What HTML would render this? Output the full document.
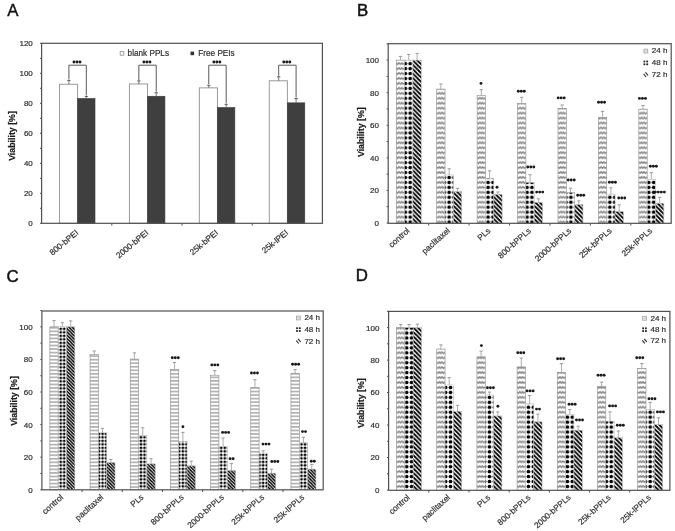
<!DOCTYPE html><html><head><meta charset="utf-8"><style>html,body{margin:0;padding:0;background:#fff;overflow:hidden;}svg{display:block;will-change:transform;}</style></head><body><svg width="675" height="531" viewBox="0 0 675 531" style="font-family:'Liberation Sans', sans-serif"><defs><pattern id="p1" patternUnits="userSpaceOnUse" width="8.1" height="4.95" x="396.27" y="219.53"><rect width="8.1" height="4.95" fill="#fff"/><path d="M0,2.0 L1.35,3.1 L2.7,1.9 L4.05,3.1 L5.4,1.9 L6.75,3.1 L8.1,2.0" fill="none" stroke="#8c8c8c" stroke-width="1.6"/></pattern><pattern id="p2" patternUnits="userSpaceOnUse" width="4.87" height="4.95" x="402.87" y="219.53"><rect width="4.87" height="4.95" fill="#fff"/><circle cx="2.44" cy="2.475" r="1.85" fill="#000"/></pattern><pattern id="p3" patternUnits="userSpaceOnUse" width="4.4" height="4.4" x="412.93" y="223.3"><rect width="4.4" height="4.4" fill="#fff"/><path d="M-1,3.4000000000000004 l2,2 M0,0 l4.4,4.4 M3.4000000000000004,-1 l2,2" stroke="#000" stroke-width="1.75"/></pattern><pattern id="p4" patternUnits="userSpaceOnUse" width="8.1" height="4.95" x="436.7" y="219.53"><rect width="8.1" height="4.95" fill="#fff"/><path d="M0,2.0 L1.35,3.1 L2.7,1.9 L4.05,3.1 L5.4,1.9 L6.75,3.1 L8.1,2.0" fill="none" stroke="#8c8c8c" stroke-width="1.6"/></pattern><pattern id="p5" patternUnits="userSpaceOnUse" width="4.87" height="4.95" x="402.87" y="219.53"><rect width="4.87" height="4.95" fill="#fff"/><circle cx="2.44" cy="2.475" r="1.85" fill="#000"/></pattern><pattern id="p6" patternUnits="userSpaceOnUse" width="4.4" height="4.4" x="453.36" y="223.3"><rect width="4.4" height="4.4" fill="#fff"/><path d="M-1,3.4000000000000004 l2,2 M0,0 l4.4,4.4 M3.4000000000000004,-1 l2,2" stroke="#000" stroke-width="1.75"/></pattern><pattern id="p7" patternUnits="userSpaceOnUse" width="8.1" height="4.95" x="477.13" y="219.53"><rect width="8.1" height="4.95" fill="#fff"/><path d="M0,2.0 L1.35,3.1 L2.7,1.9 L4.05,3.1 L5.4,1.9 L6.75,3.1 L8.1,2.0" fill="none" stroke="#8c8c8c" stroke-width="1.6"/></pattern><pattern id="p8" patternUnits="userSpaceOnUse" width="4.87" height="4.95" x="402.87" y="219.53"><rect width="4.87" height="4.95" fill="#fff"/><circle cx="2.44" cy="2.475" r="1.85" fill="#000"/></pattern><pattern id="p9" patternUnits="userSpaceOnUse" width="4.4" height="4.4" x="493.79" y="223.3"><rect width="4.4" height="4.4" fill="#fff"/><path d="M-1,3.4000000000000004 l2,2 M0,0 l4.4,4.4 M3.4000000000000004,-1 l2,2" stroke="#000" stroke-width="1.75"/></pattern><pattern id="p10" patternUnits="userSpaceOnUse" width="8.1" height="4.95" x="517.56" y="219.53"><rect width="8.1" height="4.95" fill="#fff"/><path d="M0,2.0 L1.35,3.1 L2.7,1.9 L4.05,3.1 L5.4,1.9 L6.75,3.1 L8.1,2.0" fill="none" stroke="#8c8c8c" stroke-width="1.6"/></pattern><pattern id="p11" patternUnits="userSpaceOnUse" width="4.87" height="4.95" x="402.87" y="219.53"><rect width="4.87" height="4.95" fill="#fff"/><circle cx="2.44" cy="2.475" r="1.85" fill="#000"/></pattern><pattern id="p12" patternUnits="userSpaceOnUse" width="4.4" height="4.4" x="534.22" y="223.3"><rect width="4.4" height="4.4" fill="#fff"/><path d="M-1,3.4000000000000004 l2,2 M0,0 l4.4,4.4 M3.4000000000000004,-1 l2,2" stroke="#000" stroke-width="1.75"/></pattern><pattern id="p13" patternUnits="userSpaceOnUse" width="8.1" height="4.95" x="557.98" y="219.53"><rect width="8.1" height="4.95" fill="#fff"/><path d="M0,2.0 L1.35,3.1 L2.7,1.9 L4.05,3.1 L5.4,1.9 L6.75,3.1 L8.1,2.0" fill="none" stroke="#8c8c8c" stroke-width="1.6"/></pattern><pattern id="p14" patternUnits="userSpaceOnUse" width="4.87" height="4.95" x="402.87" y="219.53"><rect width="4.87" height="4.95" fill="#fff"/><circle cx="2.44" cy="2.475" r="1.85" fill="#000"/></pattern><pattern id="p15" patternUnits="userSpaceOnUse" width="4.4" height="4.4" x="574.64" y="223.3"><rect width="4.4" height="4.4" fill="#fff"/><path d="M-1,3.4000000000000004 l2,2 M0,0 l4.4,4.4 M3.4000000000000004,-1 l2,2" stroke="#000" stroke-width="1.75"/></pattern><pattern id="p16" patternUnits="userSpaceOnUse" width="8.1" height="4.95" x="598.41" y="219.53"><rect width="8.1" height="4.95" fill="#fff"/><path d="M0,2.0 L1.35,3.1 L2.7,1.9 L4.05,3.1 L5.4,1.9 L6.75,3.1 L8.1,2.0" fill="none" stroke="#8c8c8c" stroke-width="1.6"/></pattern><pattern id="p17" patternUnits="userSpaceOnUse" width="4.87" height="4.95" x="402.87" y="219.53"><rect width="4.87" height="4.95" fill="#fff"/><circle cx="2.44" cy="2.475" r="1.85" fill="#000"/></pattern><pattern id="p18" patternUnits="userSpaceOnUse" width="4.4" height="4.4" x="615.07" y="223.3"><rect width="4.4" height="4.4" fill="#fff"/><path d="M-1,3.4000000000000004 l2,2 M0,0 l4.4,4.4 M3.4000000000000004,-1 l2,2" stroke="#000" stroke-width="1.75"/></pattern><pattern id="p19" patternUnits="userSpaceOnUse" width="8.1" height="4.95" x="638.84" y="219.53"><rect width="8.1" height="4.95" fill="#fff"/><path d="M0,2.0 L1.35,3.1 L2.7,1.9 L4.05,3.1 L5.4,1.9 L6.75,3.1 L8.1,2.0" fill="none" stroke="#8c8c8c" stroke-width="1.6"/></pattern><pattern id="p20" patternUnits="userSpaceOnUse" width="4.87" height="4.95" x="402.87" y="219.53"><rect width="4.87" height="4.95" fill="#fff"/><circle cx="2.44" cy="2.475" r="1.85" fill="#000"/></pattern><pattern id="p21" patternUnits="userSpaceOnUse" width="4.4" height="4.4" x="655.5" y="223.3"><rect width="4.4" height="4.4" fill="#fff"/><path d="M-1,3.4000000000000004 l2,2 M0,0 l4.4,4.4 M3.4000000000000004,-1 l2,2" stroke="#000" stroke-width="1.75"/></pattern><pattern id="p22" patternUnits="userSpaceOnUse" width="8.1" height="3.54" x="49.85" y="489.8"><rect width="8.1" height="3.54" fill="#fff"/><rect x="0" y="0.1" width="8.1" height="1.45" fill="#a4a4a4"/></pattern><pattern id="p23" patternUnits="userSpaceOnUse" width="3.49" height="3.5" x="58.96" y="488.05"><rect width="3.49" height="3.5" fill="#fff"/><circle cx="1.75" cy="1.75" r="1.38" fill="#000"/></pattern><pattern id="p24" patternUnits="userSpaceOnUse" width="3.3" height="3.3" x="66.51" y="489.8"><rect width="3.3" height="3.3" fill="#fff"/><path d="M-1,2.3 l2,2 M0,0 l3.3,3.3 M2.3,-1 l2,2" stroke="#000" stroke-width="1.45"/></pattern><pattern id="p25" patternUnits="userSpaceOnUse" width="8.1" height="3.54" x="90.03" y="489.8"><rect width="8.1" height="3.54" fill="#fff"/><rect x="0" y="0.1" width="8.1" height="1.45" fill="#a4a4a4"/></pattern><pattern id="p26" patternUnits="userSpaceOnUse" width="3.49" height="3.5" x="58.96" y="488.05"><rect width="3.49" height="3.5" fill="#fff"/><circle cx="1.75" cy="1.75" r="1.38" fill="#000"/></pattern><pattern id="p27" patternUnits="userSpaceOnUse" width="3.3" height="3.3" x="106.69" y="489.8"><rect width="3.3" height="3.3" fill="#fff"/><path d="M-1,2.3 l2,2 M0,0 l3.3,3.3 M2.3,-1 l2,2" stroke="#000" stroke-width="1.45"/></pattern><pattern id="p28" patternUnits="userSpaceOnUse" width="8.1" height="3.54" x="130.22" y="489.8"><rect width="8.1" height="3.54" fill="#fff"/><rect x="0" y="0.1" width="8.1" height="1.45" fill="#a4a4a4"/></pattern><pattern id="p29" patternUnits="userSpaceOnUse" width="3.49" height="3.5" x="58.96" y="488.05"><rect width="3.49" height="3.5" fill="#fff"/><circle cx="1.75" cy="1.75" r="1.38" fill="#000"/></pattern><pattern id="p30" patternUnits="userSpaceOnUse" width="3.3" height="3.3" x="146.88" y="489.8"><rect width="3.3" height="3.3" fill="#fff"/><path d="M-1,2.3 l2,2 M0,0 l3.3,3.3 M2.3,-1 l2,2" stroke="#000" stroke-width="1.45"/></pattern><pattern id="p31" patternUnits="userSpaceOnUse" width="8.1" height="3.54" x="170.41" y="489.8"><rect width="8.1" height="3.54" fill="#fff"/><rect x="0" y="0.1" width="8.1" height="1.45" fill="#a4a4a4"/></pattern><pattern id="p32" patternUnits="userSpaceOnUse" width="3.49" height="3.5" x="58.96" y="488.05"><rect width="3.49" height="3.5" fill="#fff"/><circle cx="1.75" cy="1.75" r="1.38" fill="#000"/></pattern><pattern id="p33" patternUnits="userSpaceOnUse" width="3.3" height="3.3" x="187.06" y="489.8"><rect width="3.3" height="3.3" fill="#fff"/><path d="M-1,2.3 l2,2 M0,0 l3.3,3.3 M2.3,-1 l2,2" stroke="#000" stroke-width="1.45"/></pattern><pattern id="p34" patternUnits="userSpaceOnUse" width="8.1" height="3.54" x="210.59" y="489.8"><rect width="8.1" height="3.54" fill="#fff"/><rect x="0" y="0.1" width="8.1" height="1.45" fill="#a4a4a4"/></pattern><pattern id="p35" patternUnits="userSpaceOnUse" width="3.49" height="3.5" x="58.96" y="488.05"><rect width="3.49" height="3.5" fill="#fff"/><circle cx="1.75" cy="1.75" r="1.38" fill="#000"/></pattern><pattern id="p36" patternUnits="userSpaceOnUse" width="3.3" height="3.3" x="227.25" y="489.8"><rect width="3.3" height="3.3" fill="#fff"/><path d="M-1,2.3 l2,2 M0,0 l3.3,3.3 M2.3,-1 l2,2" stroke="#000" stroke-width="1.45"/></pattern><pattern id="p37" patternUnits="userSpaceOnUse" width="8.1" height="3.54" x="250.78" y="489.8"><rect width="8.1" height="3.54" fill="#fff"/><rect x="0" y="0.1" width="8.1" height="1.45" fill="#a4a4a4"/></pattern><pattern id="p38" patternUnits="userSpaceOnUse" width="3.49" height="3.5" x="58.96" y="488.05"><rect width="3.49" height="3.5" fill="#fff"/><circle cx="1.75" cy="1.75" r="1.38" fill="#000"/></pattern><pattern id="p39" patternUnits="userSpaceOnUse" width="3.3" height="3.3" x="267.44" y="489.8"><rect width="3.3" height="3.3" fill="#fff"/><path d="M-1,2.3 l2,2 M0,0 l3.3,3.3 M2.3,-1 l2,2" stroke="#000" stroke-width="1.45"/></pattern><pattern id="p40" patternUnits="userSpaceOnUse" width="8.1" height="3.54" x="290.96" y="489.8"><rect width="8.1" height="3.54" fill="#fff"/><rect x="0" y="0.1" width="8.1" height="1.45" fill="#a4a4a4"/></pattern><pattern id="p41" patternUnits="userSpaceOnUse" width="3.49" height="3.5" x="58.96" y="488.05"><rect width="3.49" height="3.5" fill="#fff"/><circle cx="1.75" cy="1.75" r="1.38" fill="#000"/></pattern><pattern id="p42" patternUnits="userSpaceOnUse" width="3.3" height="3.3" x="307.62" y="489.8"><rect width="3.3" height="3.3" fill="#fff"/><path d="M-1,2.3 l2,2 M0,0 l3.3,3.3 M2.3,-1 l2,2" stroke="#000" stroke-width="1.45"/></pattern><pattern id="p43" patternUnits="userSpaceOnUse" width="8.1" height="4.95" x="396.55" y="483.96"><rect width="8.1" height="4.95" fill="#fff"/><path d="M0,2.0 L1.35,3.1 L2.7,1.9 L4.05,3.1 L5.4,1.9 L6.75,3.1 L8.1,2.0" fill="none" stroke="#8c8c8c" stroke-width="1.6"/></pattern><pattern id="p44" patternUnits="userSpaceOnUse" width="4.87" height="4.95" x="404.26" y="483.96"><rect width="4.87" height="4.95" fill="#fff"/><circle cx="2.44" cy="2.475" r="1.85" fill="#000"/></pattern><pattern id="p45" patternUnits="userSpaceOnUse" width="4.4" height="4.4" x="413.21" y="490.3"><rect width="4.4" height="4.4" fill="#fff"/><path d="M-1,3.4000000000000004 l2,2 M0,0 l4.4,4.4 M3.4000000000000004,-1 l2,2" stroke="#000" stroke-width="1.75"/></pattern><pattern id="p46" patternUnits="userSpaceOnUse" width="8.1" height="4.95" x="436.73" y="483.96"><rect width="8.1" height="4.95" fill="#fff"/><path d="M0,2.0 L1.35,3.1 L2.7,1.9 L4.05,3.1 L5.4,1.9 L6.75,3.1 L8.1,2.0" fill="none" stroke="#8c8c8c" stroke-width="1.6"/></pattern><pattern id="p47" patternUnits="userSpaceOnUse" width="4.87" height="4.95" x="404.26" y="483.96"><rect width="4.87" height="4.95" fill="#fff"/><circle cx="2.44" cy="2.475" r="1.85" fill="#000"/></pattern><pattern id="p48" patternUnits="userSpaceOnUse" width="4.4" height="4.4" x="453.39" y="490.3"><rect width="4.4" height="4.4" fill="#fff"/><path d="M-1,3.4000000000000004 l2,2 M0,0 l4.4,4.4 M3.4000000000000004,-1 l2,2" stroke="#000" stroke-width="1.75"/></pattern><pattern id="p49" patternUnits="userSpaceOnUse" width="8.1" height="4.95" x="476.92" y="483.96"><rect width="8.1" height="4.95" fill="#fff"/><path d="M0,2.0 L1.35,3.1 L2.7,1.9 L4.05,3.1 L5.4,1.9 L6.75,3.1 L8.1,2.0" fill="none" stroke="#8c8c8c" stroke-width="1.6"/></pattern><pattern id="p50" patternUnits="userSpaceOnUse" width="4.87" height="4.95" x="404.26" y="483.96"><rect width="4.87" height="4.95" fill="#fff"/><circle cx="2.44" cy="2.475" r="1.85" fill="#000"/></pattern><pattern id="p51" patternUnits="userSpaceOnUse" width="4.4" height="4.4" x="493.58" y="490.3"><rect width="4.4" height="4.4" fill="#fff"/><path d="M-1,3.4000000000000004 l2,2 M0,0 l4.4,4.4 M3.4000000000000004,-1 l2,2" stroke="#000" stroke-width="1.75"/></pattern><pattern id="p52" patternUnits="userSpaceOnUse" width="8.1" height="4.95" x="517.11" y="483.96"><rect width="8.1" height="4.95" fill="#fff"/><path d="M0,2.0 L1.35,3.1 L2.7,1.9 L4.05,3.1 L5.4,1.9 L6.75,3.1 L8.1,2.0" fill="none" stroke="#8c8c8c" stroke-width="1.6"/></pattern><pattern id="p53" patternUnits="userSpaceOnUse" width="4.87" height="4.95" x="404.26" y="483.96"><rect width="4.87" height="4.95" fill="#fff"/><circle cx="2.44" cy="2.475" r="1.85" fill="#000"/></pattern><pattern id="p54" patternUnits="userSpaceOnUse" width="4.4" height="4.4" x="533.76" y="490.3"><rect width="4.4" height="4.4" fill="#fff"/><path d="M-1,3.4000000000000004 l2,2 M0,0 l4.4,4.4 M3.4000000000000004,-1 l2,2" stroke="#000" stroke-width="1.75"/></pattern><pattern id="p55" patternUnits="userSpaceOnUse" width="8.1" height="4.95" x="557.29" y="483.96"><rect width="8.1" height="4.95" fill="#fff"/><path d="M0,2.0 L1.35,3.1 L2.7,1.9 L4.05,3.1 L5.4,1.9 L6.75,3.1 L8.1,2.0" fill="none" stroke="#8c8c8c" stroke-width="1.6"/></pattern><pattern id="p56" patternUnits="userSpaceOnUse" width="4.87" height="4.95" x="404.26" y="483.96"><rect width="4.87" height="4.95" fill="#fff"/><circle cx="2.44" cy="2.475" r="1.85" fill="#000"/></pattern><pattern id="p57" patternUnits="userSpaceOnUse" width="4.4" height="4.4" x="573.95" y="490.3"><rect width="4.4" height="4.4" fill="#fff"/><path d="M-1,3.4000000000000004 l2,2 M0,0 l4.4,4.4 M3.4000000000000004,-1 l2,2" stroke="#000" stroke-width="1.75"/></pattern><pattern id="p58" patternUnits="userSpaceOnUse" width="8.1" height="4.95" x="597.48" y="483.96"><rect width="8.1" height="4.95" fill="#fff"/><path d="M0,2.0 L1.35,3.1 L2.7,1.9 L4.05,3.1 L5.4,1.9 L6.75,3.1 L8.1,2.0" fill="none" stroke="#8c8c8c" stroke-width="1.6"/></pattern><pattern id="p59" patternUnits="userSpaceOnUse" width="4.87" height="4.95" x="404.26" y="483.96"><rect width="4.87" height="4.95" fill="#fff"/><circle cx="2.44" cy="2.475" r="1.85" fill="#000"/></pattern><pattern id="p60" patternUnits="userSpaceOnUse" width="4.4" height="4.4" x="614.14" y="490.3"><rect width="4.4" height="4.4" fill="#fff"/><path d="M-1,3.4000000000000004 l2,2 M0,0 l4.4,4.4 M3.4000000000000004,-1 l2,2" stroke="#000" stroke-width="1.75"/></pattern><pattern id="p61" patternUnits="userSpaceOnUse" width="8.1" height="4.95" x="637.66" y="483.96"><rect width="8.1" height="4.95" fill="#fff"/><path d="M0,2.0 L1.35,3.1 L2.7,1.9 L4.05,3.1 L5.4,1.9 L6.75,3.1 L8.1,2.0" fill="none" stroke="#8c8c8c" stroke-width="1.6"/></pattern><pattern id="p62" patternUnits="userSpaceOnUse" width="4.87" height="4.95" x="404.26" y="483.96"><rect width="4.87" height="4.95" fill="#fff"/><circle cx="2.44" cy="2.475" r="1.85" fill="#000"/></pattern><pattern id="p63" patternUnits="userSpaceOnUse" width="4.4" height="4.4" x="654.32" y="490.3"><rect width="4.4" height="4.4" fill="#fff"/><path d="M-1,3.4000000000000004 l2,2 M0,0 l4.4,4.4 M3.4000000000000004,-1 l2,2" stroke="#000" stroke-width="1.75"/></pattern></defs><rect width="675" height="531" fill="#fff"/><text x="7.2" y="15.7" font-size="16.8" fill="#111" stroke="#111" stroke-width="0.35">A</text>
<rect x="59.5" y="84.25" width="18.1" height="139.05" fill="#fff" stroke="#9a9a9a" stroke-width="1"/>
<rect x="77.6" y="98.5" width="17.4" height="124.8" fill="#3f3f3f" stroke="#3a3a3a" stroke-width="0.6"/>
<line x1="68.9" y1="80.4" x2="68.9" y2="84.25" stroke="#555" stroke-width="0.8"/>
<line x1="67.3" y1="80.4" x2="70.5" y2="80.4" stroke="#555" stroke-width="1"/>
<line x1="86.3" y1="96.4" x2="86.3" y2="98.5" stroke="#555" stroke-width="0.8"/>
<line x1="84.7" y1="96.4" x2="87.9" y2="96.4" stroke="#555" stroke-width="1"/>
<path d="M68.9,79.4 V65.2 H86.3 V95.4" fill="none" stroke="#5a5a5a" stroke-width="1"/>
<circle cx="74" cy="62" r="1.45" fill="#1a1a1a"/>
<circle cx="77" cy="62" r="1.45" fill="#1a1a1a"/>
<circle cx="80" cy="62" r="1.45" fill="#1a1a1a"/>
<text transform="translate(79,233.6) rotate(-40)" font-size="8.3" text-anchor="end" fill="#2e2e2e" stroke="#2e2e2e" stroke-width="0.2">800-bPEI</text>
<rect x="129.43" y="83.95" width="18.1" height="139.35" fill="#fff" stroke="#9a9a9a" stroke-width="1"/>
<rect x="147.53" y="96.25" width="17.4" height="127.05" fill="#3f3f3f" stroke="#3a3a3a" stroke-width="0.6"/>
<line x1="138.83" y1="80.9" x2="138.83" y2="83.95" stroke="#555" stroke-width="0.8"/>
<line x1="137.23" y1="80.9" x2="140.43" y2="80.9" stroke="#555" stroke-width="1"/>
<line x1="156.23" y1="92.8" x2="156.23" y2="96.25" stroke="#555" stroke-width="0.8"/>
<line x1="154.63" y1="92.8" x2="157.83" y2="92.8" stroke="#555" stroke-width="1"/>
<path d="M138.83,79.9 V65.2 H156.23 V91.8" fill="none" stroke="#5a5a5a" stroke-width="1"/>
<circle cx="143.93" cy="62" r="1.45" fill="#1a1a1a"/>
<circle cx="146.93" cy="62" r="1.45" fill="#1a1a1a"/>
<circle cx="149.93" cy="62" r="1.45" fill="#1a1a1a"/>
<text transform="translate(148.93,233.6) rotate(-40)" font-size="8.3" text-anchor="end" fill="#2e2e2e" stroke="#2e2e2e" stroke-width="0.2">2000-bPEI</text>
<rect x="199.36" y="87.85" width="18.1" height="135.45" fill="#fff" stroke="#9a9a9a" stroke-width="1"/>
<rect x="217.46" y="107.5" width="17.4" height="115.8" fill="#3f3f3f" stroke="#3a3a3a" stroke-width="0.6"/>
<line x1="208.76" y1="85.3" x2="208.76" y2="87.85" stroke="#555" stroke-width="0.8"/>
<line x1="207.16" y1="85.3" x2="210.36" y2="85.3" stroke="#555" stroke-width="1"/>
<line x1="226.16" y1="104.3" x2="226.16" y2="107.5" stroke="#555" stroke-width="0.8"/>
<line x1="224.56" y1="104.3" x2="227.76" y2="104.3" stroke="#555" stroke-width="1"/>
<path d="M208.76,84.3 V65.2 H226.16 V103.3" fill="none" stroke="#5a5a5a" stroke-width="1"/>
<circle cx="213.86" cy="62" r="1.45" fill="#1a1a1a"/>
<circle cx="216.86" cy="62" r="1.45" fill="#1a1a1a"/>
<circle cx="219.86" cy="62" r="1.45" fill="#1a1a1a"/>
<text transform="translate(218.86,233.6) rotate(-40)" font-size="8.3" text-anchor="end" fill="#2e2e2e" stroke="#2e2e2e" stroke-width="0.2">25k-bPEI</text>
<rect x="269.29" y="80.8" width="18.1" height="142.5" fill="#fff" stroke="#9a9a9a" stroke-width="1"/>
<rect x="287.39" y="102.85" width="17.4" height="120.45" fill="#3f3f3f" stroke="#3a3a3a" stroke-width="0.6"/>
<line x1="278.69" y1="76.8" x2="278.69" y2="80.8" stroke="#555" stroke-width="0.8"/>
<line x1="277.09" y1="76.8" x2="280.29" y2="76.8" stroke="#555" stroke-width="1"/>
<line x1="296.09" y1="98.6" x2="296.09" y2="102.85" stroke="#555" stroke-width="0.8"/>
<line x1="294.49" y1="98.6" x2="297.69" y2="98.6" stroke="#555" stroke-width="1"/>
<path d="M278.69,75.8 V65.2 H296.09 V97.6" fill="none" stroke="#5a5a5a" stroke-width="1"/>
<circle cx="283.79" cy="62" r="1.45" fill="#1a1a1a"/>
<circle cx="286.79" cy="62" r="1.45" fill="#1a1a1a"/>
<circle cx="289.79" cy="62" r="1.45" fill="#1a1a1a"/>
<text transform="translate(288.79,233.6) rotate(-40)" font-size="8.3" text-anchor="end" fill="#2e2e2e" stroke="#2e2e2e" stroke-width="0.2">25k-lPEI</text>
<rect x="41.6" y="43.3" width="280.8" height="180" fill="none" stroke="#505050" stroke-width="1.2"/>
<line x1="40" y1="223.3" x2="41.6" y2="223.3" stroke="#505050" stroke-width="1"/>
<text x="32.8" y="226.2" font-size="8.0" text-anchor="end" font-weight="normal" fill="#2e2e2e" stroke="#2e2e2e" stroke-width="0.2">0</text>
<line x1="40" y1="208.3" x2="41.6" y2="208.3" stroke="#505050" stroke-width="1"/>
<line x1="40" y1="193.3" x2="41.6" y2="193.3" stroke="#505050" stroke-width="1"/>
<text x="32.8" y="196.2" font-size="8.0" text-anchor="end" font-weight="normal" fill="#2e2e2e" stroke="#2e2e2e" stroke-width="0.2">20</text>
<line x1="40" y1="178.3" x2="41.6" y2="178.3" stroke="#505050" stroke-width="1"/>
<line x1="40" y1="163.3" x2="41.6" y2="163.3" stroke="#505050" stroke-width="1"/>
<text x="32.8" y="166.2" font-size="8.0" text-anchor="end" font-weight="normal" fill="#2e2e2e" stroke="#2e2e2e" stroke-width="0.2">40</text>
<line x1="40" y1="148.3" x2="41.6" y2="148.3" stroke="#505050" stroke-width="1"/>
<line x1="40" y1="133.3" x2="41.6" y2="133.3" stroke="#505050" stroke-width="1"/>
<text x="32.8" y="136.2" font-size="8.0" text-anchor="end" font-weight="normal" fill="#2e2e2e" stroke="#2e2e2e" stroke-width="0.2">60</text>
<line x1="40" y1="118.3" x2="41.6" y2="118.3" stroke="#505050" stroke-width="1"/>
<line x1="40" y1="103.3" x2="41.6" y2="103.3" stroke="#505050" stroke-width="1"/>
<text x="32.8" y="106.2" font-size="8.0" text-anchor="end" font-weight="normal" fill="#2e2e2e" stroke="#2e2e2e" stroke-width="0.2">80</text>
<line x1="40" y1="88.3" x2="41.6" y2="88.3" stroke="#505050" stroke-width="1"/>
<line x1="40" y1="73.3" x2="41.6" y2="73.3" stroke="#505050" stroke-width="1"/>
<text x="32.8" y="76.2" font-size="8.0" text-anchor="end" font-weight="normal" fill="#2e2e2e" stroke="#2e2e2e" stroke-width="0.2">100</text>
<line x1="40" y1="58.3" x2="41.6" y2="58.3" stroke="#505050" stroke-width="1"/>
<line x1="40" y1="43.3" x2="41.6" y2="43.3" stroke="#505050" stroke-width="1"/>
<text x="32.8" y="46.2" font-size="8.0" text-anchor="end" font-weight="normal" fill="#2e2e2e" stroke="#2e2e2e" stroke-width="0.2">120</text>
<text transform="translate(14.9,136.0) rotate(-90)" font-size="8.8" font-weight="bold" text-anchor="middle" fill="#1e1e1e" stroke="#1e1e1e" stroke-width="0.25">Viability [%]</text>
<line x1="111.8" y1="223.3" x2="111.8" y2="225.5" stroke="#505050" stroke-width="1"/>
<line x1="182" y1="223.3" x2="182" y2="225.5" stroke="#505050" stroke-width="1"/>
<line x1="252.2" y1="223.3" x2="252.2" y2="225.5" stroke="#505050" stroke-width="1"/>
<rect x="120.2" y="51.6" width="3.6" height="3.6" fill="#fff" stroke="#999" stroke-width="0.9"/>
<text x="127.6" y="56" font-size="8.2" text-anchor="start" font-weight="normal" fill="#2e2e2e" stroke="#2e2e2e" stroke-width="0.2">blank PPLs</text>
<rect x="190.5" y="51.6" width="3.6" height="3.6" fill="#333"/>
<text x="198.3" y="56" font-size="8.2" text-anchor="start" font-weight="normal" fill="#2e2e2e" stroke="#2e2e2e" stroke-width="0.2">Free PEIs</text>
<text x="357.1" y="15.7" font-size="16.8" fill="#111" stroke="#111" stroke-width="0.5">B</text>
<rect x="396.27" y="60.1" width="8.33" height="163.2" fill="url(#p1)" stroke="#8a8a8a" stroke-width="0.6"/>
<line x1="400.43" y1="56.4" x2="400.43" y2="60.1" stroke="#999" stroke-width="0.8"/>
<line x1="398.83" y1="56.4" x2="402.03" y2="56.4" stroke="#999" stroke-width="1"/>
<rect x="404.6" y="60.1" width="8.33" height="163.2" fill="url(#p2)" stroke="#bbb" stroke-width="0.6"/>
<line x1="408.76" y1="54.5" x2="408.76" y2="60.1" stroke="#999" stroke-width="0.8"/>
<line x1="407.16" y1="54.5" x2="410.36" y2="54.5" stroke="#999" stroke-width="1"/>
<rect x="412.93" y="60.1" width="8.33" height="163.2" fill="url(#p3)" stroke="#bbb" stroke-width="0.6"/>
<line x1="417.09" y1="53.4" x2="417.09" y2="60.1" stroke="#999" stroke-width="0.8"/>
<line x1="415.49" y1="53.4" x2="418.69" y2="53.4" stroke="#999" stroke-width="1"/>
<text transform="translate(410.21,231.4) rotate(-42)" font-size="8.3" text-anchor="end" fill="#2e2e2e" stroke="#2e2e2e" stroke-width="0.2">control</text>
<rect x="436.7" y="89.1" width="8.33" height="134.2" fill="url(#p4)" stroke="#8a8a8a" stroke-width="0.6"/>
<line x1="440.86" y1="84" x2="440.86" y2="89.1" stroke="#999" stroke-width="0.8"/>
<line x1="439.26" y1="84" x2="442.46" y2="84" stroke="#999" stroke-width="1"/>
<rect x="445.03" y="174.94" width="8.33" height="48.36" fill="url(#p5)" stroke="#bbb" stroke-width="0.6"/>
<line x1="449.19" y1="168.8" x2="449.19" y2="174.94" stroke="#999" stroke-width="0.8"/>
<line x1="447.59" y1="168.8" x2="450.79" y2="168.8" stroke="#999" stroke-width="1"/>
<rect x="453.36" y="191.56" width="8.33" height="31.74" fill="url(#p6)" stroke="#bbb" stroke-width="0.6"/>
<line x1="457.52" y1="188.4" x2="457.52" y2="191.56" stroke="#999" stroke-width="0.8"/>
<line x1="455.92" y1="188.4" x2="459.12" y2="188.4" stroke="#999" stroke-width="1"/>
<text transform="translate(450.64,231.4) rotate(-42)" font-size="8.3" text-anchor="end" fill="#2e2e2e" stroke="#2e2e2e" stroke-width="0.2">paclitaxel</text>
<rect x="477.13" y="95.29" width="8.33" height="128.01" fill="url(#p7)" stroke="#8a8a8a" stroke-width="0.6"/>
<line x1="481.29" y1="89.6" x2="481.29" y2="95.29" stroke="#999" stroke-width="0.8"/>
<line x1="479.69" y1="89.6" x2="482.89" y2="89.6" stroke="#999" stroke-width="1"/>
<rect x="485.46" y="178.37" width="8.33" height="44.93" fill="url(#p8)" stroke="#bbb" stroke-width="0.6"/>
<line x1="489.62" y1="170.8" x2="489.62" y2="178.37" stroke="#999" stroke-width="0.8"/>
<line x1="488.02" y1="170.8" x2="491.22" y2="170.8" stroke="#999" stroke-width="1"/>
<rect x="493.79" y="194.33" width="8.33" height="28.97" fill="url(#p9)" stroke="#bbb" stroke-width="0.6"/>
<line x1="497.95" y1="192" x2="497.95" y2="194.33" stroke="#999" stroke-width="0.8"/>
<line x1="496.35" y1="192" x2="499.55" y2="192" stroke="#999" stroke-width="1"/>
<circle cx="481" cy="83.4" r="1.45" fill="#1a1a1a"/>
<circle cx="497" cy="187.2" r="1.45" fill="#1a1a1a"/>
<text transform="translate(491.07,231.4) rotate(-42)" font-size="8.3" text-anchor="end" fill="#2e2e2e" stroke="#2e2e2e" stroke-width="0.2">PLs</text>
<rect x="517.56" y="103.59" width="8.33" height="119.71" fill="url(#p10)" stroke="#8a8a8a" stroke-width="0.6"/>
<line x1="521.72" y1="97.3" x2="521.72" y2="103.59" stroke="#999" stroke-width="0.8"/>
<line x1="520.12" y1="97.3" x2="523.32" y2="97.3" stroke="#999" stroke-width="1"/>
<rect x="525.89" y="182.44" width="8.33" height="40.86" fill="url(#p11)" stroke="#bbb" stroke-width="0.6"/>
<line x1="530.05" y1="174.7" x2="530.05" y2="182.44" stroke="#999" stroke-width="0.8"/>
<line x1="528.45" y1="174.7" x2="531.65" y2="174.7" stroke="#999" stroke-width="1"/>
<rect x="534.22" y="202.31" width="8.33" height="20.99" fill="url(#p12)" stroke="#bbb" stroke-width="0.6"/>
<line x1="538.38" y1="198.8" x2="538.38" y2="202.31" stroke="#999" stroke-width="0.8"/>
<line x1="536.78" y1="198.8" x2="539.98" y2="198.8" stroke="#999" stroke-width="1"/>
<circle cx="518.3" cy="91.3" r="1.45" fill="#1a1a1a"/>
<circle cx="521.3" cy="91.3" r="1.45" fill="#1a1a1a"/>
<circle cx="524.3" cy="91.3" r="1.45" fill="#1a1a1a"/>
<circle cx="527.75" cy="167" r="1.45" fill="#1a1a1a"/>
<circle cx="530.75" cy="167" r="1.45" fill="#1a1a1a"/>
<circle cx="533.75" cy="167" r="1.45" fill="#1a1a1a"/>
<circle cx="536.7" cy="192.1" r="1.45" fill="#1a1a1a"/>
<circle cx="539.7" cy="192.1" r="1.45" fill="#1a1a1a"/>
<circle cx="542.7" cy="192.1" r="1.45" fill="#1a1a1a"/>
<text transform="translate(531.5,231.4) rotate(-42)" font-size="8.3" text-anchor="end" fill="#2e2e2e" stroke="#2e2e2e" stroke-width="0.2">800-bPPLs</text>
<rect x="557.98" y="108.32" width="8.33" height="114.98" fill="url(#p13)" stroke="#8a8a8a" stroke-width="0.6"/>
<line x1="562.15" y1="105" x2="562.15" y2="108.32" stroke="#999" stroke-width="0.8"/>
<line x1="560.55" y1="105" x2="563.75" y2="105" stroke="#999" stroke-width="1"/>
<rect x="566.31" y="192.37" width="8.33" height="30.93" fill="url(#p14)" stroke="#bbb" stroke-width="0.6"/>
<line x1="570.48" y1="188.2" x2="570.48" y2="192.37" stroke="#999" stroke-width="0.8"/>
<line x1="568.88" y1="188.2" x2="572.08" y2="188.2" stroke="#999" stroke-width="1"/>
<rect x="574.64" y="204.43" width="8.33" height="18.87" fill="url(#p15)" stroke="#bbb" stroke-width="0.6"/>
<line x1="578.81" y1="200.9" x2="578.81" y2="204.43" stroke="#999" stroke-width="0.8"/>
<line x1="577.21" y1="200.9" x2="580.41" y2="200.9" stroke="#999" stroke-width="1"/>
<circle cx="558.2" cy="97.9" r="1.45" fill="#1a1a1a"/>
<circle cx="561.2" cy="97.9" r="1.45" fill="#1a1a1a"/>
<circle cx="564.2" cy="97.9" r="1.45" fill="#1a1a1a"/>
<circle cx="568.25" cy="180" r="1.45" fill="#1a1a1a"/>
<circle cx="571.25" cy="180" r="1.45" fill="#1a1a1a"/>
<circle cx="574.25" cy="180" r="1.45" fill="#1a1a1a"/>
<circle cx="577.7" cy="195.2" r="1.45" fill="#1a1a1a"/>
<circle cx="580.7" cy="195.2" r="1.45" fill="#1a1a1a"/>
<circle cx="583.7" cy="195.2" r="1.45" fill="#1a1a1a"/>
<text transform="translate(571.93,231.4) rotate(-42)" font-size="8.3" text-anchor="end" fill="#2e2e2e" stroke="#2e2e2e" stroke-width="0.2">2000-bPPLs</text>
<rect x="598.41" y="117.44" width="8.33" height="105.86" fill="url(#p16)" stroke="#8a8a8a" stroke-width="0.6"/>
<line x1="602.58" y1="111.4" x2="602.58" y2="117.44" stroke="#999" stroke-width="0.8"/>
<line x1="600.98" y1="111.4" x2="604.18" y2="111.4" stroke="#999" stroke-width="1"/>
<rect x="606.74" y="194.17" width="8.33" height="29.13" fill="url(#p17)" stroke="#bbb" stroke-width="0.6"/>
<line x1="610.91" y1="187.8" x2="610.91" y2="194.17" stroke="#999" stroke-width="0.8"/>
<line x1="609.31" y1="187.8" x2="612.51" y2="187.8" stroke="#999" stroke-width="1"/>
<rect x="615.07" y="211.43" width="8.33" height="11.87" fill="url(#p18)" stroke="#bbb" stroke-width="0.6"/>
<line x1="619.24" y1="204.8" x2="619.24" y2="211.43" stroke="#999" stroke-width="0.8"/>
<line x1="617.64" y1="204.8" x2="620.84" y2="204.8" stroke="#999" stroke-width="1"/>
<circle cx="598.55" cy="102.3" r="1.45" fill="#1a1a1a"/>
<circle cx="601.55" cy="102.3" r="1.45" fill="#1a1a1a"/>
<circle cx="604.55" cy="102.3" r="1.45" fill="#1a1a1a"/>
<circle cx="609.4" cy="182.2" r="1.45" fill="#1a1a1a"/>
<circle cx="612.4" cy="182.2" r="1.45" fill="#1a1a1a"/>
<circle cx="615.4" cy="182.2" r="1.45" fill="#1a1a1a"/>
<circle cx="618.75" cy="198" r="1.45" fill="#1a1a1a"/>
<circle cx="621.75" cy="198" r="1.45" fill="#1a1a1a"/>
<circle cx="624.75" cy="198" r="1.45" fill="#1a1a1a"/>
<text transform="translate(612.36,231.4) rotate(-42)" font-size="8.3" text-anchor="end" fill="#2e2e2e" stroke="#2e2e2e" stroke-width="0.2">25k-bPPLs</text>
<rect x="638.84" y="109.13" width="8.33" height="114.17" fill="url(#p19)" stroke="#8a8a8a" stroke-width="0.6"/>
<line x1="643.01" y1="105.5" x2="643.01" y2="109.13" stroke="#999" stroke-width="0.8"/>
<line x1="641.41" y1="105.5" x2="644.61" y2="105.5" stroke="#999" stroke-width="1"/>
<rect x="647.17" y="179.18" width="8.33" height="44.12" fill="url(#p20)" stroke="#bbb" stroke-width="0.6"/>
<line x1="651.34" y1="172.6" x2="651.34" y2="179.18" stroke="#999" stroke-width="0.8"/>
<line x1="649.74" y1="172.6" x2="652.94" y2="172.6" stroke="#999" stroke-width="1"/>
<rect x="655.5" y="203.29" width="8.33" height="20.01" fill="url(#p21)" stroke="#bbb" stroke-width="0.6"/>
<line x1="659.67" y1="197.3" x2="659.67" y2="203.29" stroke="#999" stroke-width="0.8"/>
<line x1="658.07" y1="197.3" x2="661.27" y2="197.3" stroke="#999" stroke-width="1"/>
<circle cx="639.45" cy="98.4" r="1.45" fill="#1a1a1a"/>
<circle cx="642.45" cy="98.4" r="1.45" fill="#1a1a1a"/>
<circle cx="645.45" cy="98.4" r="1.45" fill="#1a1a1a"/>
<circle cx="650.35" cy="166.2" r="1.45" fill="#1a1a1a"/>
<circle cx="653.35" cy="166.2" r="1.45" fill="#1a1a1a"/>
<circle cx="656.35" cy="166.2" r="1.45" fill="#1a1a1a"/>
<circle cx="655.35" cy="192.1" r="1.45" fill="#1a1a1a"/>
<circle cx="658.35" cy="192.1" r="1.45" fill="#1a1a1a"/>
<circle cx="661.35" cy="192.1" r="1.45" fill="#1a1a1a"/>
<circle cx="664.35" cy="192.1" r="1.45" fill="#1a1a1a"/>
<text transform="translate(652.79,231.4) rotate(-42)" font-size="8.3" text-anchor="end" fill="#2e2e2e" stroke="#2e2e2e" stroke-width="0.2">25k-lPPLs</text>
<rect x="388.2" y="43.7" width="283" height="179.6" fill="none" stroke="#505050" stroke-width="1.2"/>
<line x1="386.6" y1="223" x2="388.2" y2="223" stroke="#505050" stroke-width="1"/>
<text x="379" y="225.9" font-size="8.0" text-anchor="end" font-weight="normal" fill="#2e2e2e" stroke="#2e2e2e" stroke-width="0.2">0</text>
<line x1="386.6" y1="206.71" x2="388.2" y2="206.71" stroke="#505050" stroke-width="1"/>
<line x1="386.6" y1="190.42" x2="388.2" y2="190.42" stroke="#505050" stroke-width="1"/>
<text x="379" y="193.32" font-size="8.0" text-anchor="end" font-weight="normal" fill="#2e2e2e" stroke="#2e2e2e" stroke-width="0.2">20</text>
<line x1="386.6" y1="174.13" x2="388.2" y2="174.13" stroke="#505050" stroke-width="1"/>
<line x1="386.6" y1="157.84" x2="388.2" y2="157.84" stroke="#505050" stroke-width="1"/>
<text x="379" y="160.74" font-size="8.0" text-anchor="end" font-weight="normal" fill="#2e2e2e" stroke="#2e2e2e" stroke-width="0.2">40</text>
<line x1="386.6" y1="141.55" x2="388.2" y2="141.55" stroke="#505050" stroke-width="1"/>
<line x1="386.6" y1="125.26" x2="388.2" y2="125.26" stroke="#505050" stroke-width="1"/>
<text x="379" y="128.16" font-size="8.0" text-anchor="end" font-weight="normal" fill="#2e2e2e" stroke="#2e2e2e" stroke-width="0.2">60</text>
<line x1="386.6" y1="108.97" x2="388.2" y2="108.97" stroke="#505050" stroke-width="1"/>
<line x1="386.6" y1="92.68" x2="388.2" y2="92.68" stroke="#505050" stroke-width="1"/>
<text x="379" y="95.58" font-size="8.0" text-anchor="end" font-weight="normal" fill="#2e2e2e" stroke="#2e2e2e" stroke-width="0.2">80</text>
<line x1="386.6" y1="76.39" x2="388.2" y2="76.39" stroke="#505050" stroke-width="1"/>
<line x1="386.6" y1="60.1" x2="388.2" y2="60.1" stroke="#505050" stroke-width="1"/>
<text x="379" y="63" font-size="8.0" text-anchor="end" font-weight="normal" fill="#2e2e2e" stroke="#2e2e2e" stroke-width="0.2">100</text>
<line x1="386.6" y1="43.81" x2="388.2" y2="43.81" stroke="#505050" stroke-width="1"/>
<text transform="translate(364,132.2) rotate(-90)" font-size="8.8" font-weight="bold" text-anchor="middle" fill="#1e1e1e" stroke="#1e1e1e" stroke-width="0.25">Viability [%]</text>
<line x1="428.63" y1="223.3" x2="428.63" y2="225.5" stroke="#505050" stroke-width="1"/>
<line x1="469.06" y1="223.3" x2="469.06" y2="225.5" stroke="#505050" stroke-width="1"/>
<line x1="509.49" y1="223.3" x2="509.49" y2="225.5" stroke="#505050" stroke-width="1"/>
<line x1="549.91" y1="223.3" x2="549.91" y2="225.5" stroke="#505050" stroke-width="1"/>
<line x1="590.34" y1="223.3" x2="590.34" y2="225.5" stroke="#505050" stroke-width="1"/>
<line x1="630.77" y1="223.3" x2="630.77" y2="225.5" stroke="#505050" stroke-width="1"/>
<rect x="643.9" y="49.2" width="3.8" height="3.8" fill="#f2f2f2" stroke="#aaa" stroke-width="0.9"/>
<line x1="644.1" y1="51.1" x2="647.5" y2="51.1" stroke="#bbb" stroke-width="0.8"/>
<text x="651.8" y="53.4" font-size="8.0" text-anchor="start" font-weight="normal" fill="#2e2e2e" stroke="#2e2e2e" stroke-width="0.2">24 h</text>
<rect x="643.5" y="60.6" width="1.8" height="1.8" fill="#222"/>
<rect x="646.3" y="60.6" width="1.8" height="1.8" fill="#222"/>
<rect x="643.5" y="63.4" width="1.8" height="1.8" fill="#222"/>
<rect x="646.3" y="63.4" width="1.8" height="1.8" fill="#222"/>
<text x="651.8" y="65.2" font-size="8.0" text-anchor="start" font-weight="normal" fill="#2e2e2e" stroke="#2e2e2e" stroke-width="0.2">48 h</text>
<path d="M643.6,74 L646.1,77 M645.5,72.4 L648.1,75.5" stroke="#222" stroke-width="1.1"/>
<text x="651.8" y="77" font-size="8.0" text-anchor="start" font-weight="normal" fill="#2e2e2e" stroke="#2e2e2e" stroke-width="0.2">72 h</text>
<text x="6.6" y="282.2" font-size="16.8" fill="#111" stroke="#111" stroke-width="0.5">C</text>
<rect x="49.85" y="326.8" width="8.33" height="163" fill="url(#p22)" stroke="#8a8a8a" stroke-width="0.6"/>
<line x1="54.01" y1="320.6" x2="54.01" y2="326.8" stroke="#999" stroke-width="0.8"/>
<line x1="52.41" y1="320.6" x2="55.61" y2="320.6" stroke="#999" stroke-width="1"/>
<rect x="58.18" y="326.8" width="8.33" height="163" fill="url(#p23)" stroke="#bbb" stroke-width="0.6"/>
<line x1="62.34" y1="322.7" x2="62.34" y2="326.8" stroke="#999" stroke-width="0.8"/>
<line x1="60.74" y1="322.7" x2="63.94" y2="322.7" stroke="#999" stroke-width="1"/>
<rect x="66.51" y="326.8" width="8.33" height="163" fill="url(#p24)" stroke="#bbb" stroke-width="0.6"/>
<line x1="70.67" y1="320.9" x2="70.67" y2="326.8" stroke="#999" stroke-width="0.8"/>
<line x1="69.07" y1="320.9" x2="72.27" y2="320.9" stroke="#999" stroke-width="1"/>
<text transform="translate(63.79,498) rotate(-42)" font-size="8.3" text-anchor="end" fill="#2e2e2e" stroke="#2e2e2e" stroke-width="0.2">control</text>
<rect x="90.03" y="354.51" width="8.33" height="135.29" fill="url(#p25)" stroke="#8a8a8a" stroke-width="0.6"/>
<line x1="94.2" y1="351" x2="94.2" y2="354.51" stroke="#999" stroke-width="0.8"/>
<line x1="92.6" y1="351" x2="95.8" y2="351" stroke="#999" stroke-width="1"/>
<rect x="98.36" y="432.75" width="8.33" height="57.05" fill="url(#p26)" stroke="#bbb" stroke-width="0.6"/>
<line x1="102.53" y1="428.3" x2="102.53" y2="432.75" stroke="#999" stroke-width="0.8"/>
<line x1="100.93" y1="428.3" x2="104.13" y2="428.3" stroke="#999" stroke-width="1"/>
<rect x="106.69" y="462.42" width="8.33" height="27.38" fill="url(#p27)" stroke="#bbb" stroke-width="0.6"/>
<line x1="110.86" y1="459.5" x2="110.86" y2="462.42" stroke="#999" stroke-width="0.8"/>
<line x1="109.26" y1="459.5" x2="112.46" y2="459.5" stroke="#999" stroke-width="1"/>
<text transform="translate(103.98,498) rotate(-42)" font-size="8.3" text-anchor="end" fill="#2e2e2e" stroke="#2e2e2e" stroke-width="0.2">paclitaxel</text>
<rect x="130.22" y="359.07" width="8.33" height="130.73" fill="url(#p28)" stroke="#8a8a8a" stroke-width="0.6"/>
<line x1="134.38" y1="352.9" x2="134.38" y2="359.07" stroke="#999" stroke-width="0.8"/>
<line x1="132.78" y1="352.9" x2="135.98" y2="352.9" stroke="#999" stroke-width="1"/>
<rect x="138.55" y="435.68" width="8.33" height="54.12" fill="url(#p29)" stroke="#bbb" stroke-width="0.6"/>
<line x1="142.71" y1="427.8" x2="142.71" y2="435.68" stroke="#999" stroke-width="0.8"/>
<line x1="141.11" y1="427.8" x2="144.31" y2="427.8" stroke="#999" stroke-width="1"/>
<rect x="146.88" y="463.88" width="8.33" height="25.92" fill="url(#p30)" stroke="#bbb" stroke-width="0.6"/>
<line x1="151.04" y1="458.7" x2="151.04" y2="463.88" stroke="#999" stroke-width="0.8"/>
<line x1="149.44" y1="458.7" x2="152.64" y2="458.7" stroke="#999" stroke-width="1"/>
<text transform="translate(144.16,498) rotate(-42)" font-size="8.3" text-anchor="end" fill="#2e2e2e" stroke="#2e2e2e" stroke-width="0.2">PLs</text>
<rect x="170.41" y="369.34" width="8.33" height="120.46" fill="url(#p31)" stroke="#8a8a8a" stroke-width="0.6"/>
<line x1="174.57" y1="362.5" x2="174.57" y2="369.34" stroke="#999" stroke-width="0.8"/>
<line x1="172.97" y1="362.5" x2="176.17" y2="362.5" stroke="#999" stroke-width="1"/>
<rect x="178.74" y="441.55" width="8.33" height="48.25" fill="url(#p32)" stroke="#bbb" stroke-width="0.6"/>
<line x1="182.9" y1="432.4" x2="182.9" y2="441.55" stroke="#999" stroke-width="0.8"/>
<line x1="181.3" y1="432.4" x2="184.5" y2="432.4" stroke="#999" stroke-width="1"/>
<rect x="187.06" y="465.84" width="8.33" height="23.96" fill="url(#p33)" stroke="#bbb" stroke-width="0.6"/>
<line x1="191.23" y1="461.2" x2="191.23" y2="465.84" stroke="#999" stroke-width="0.8"/>
<line x1="189.63" y1="461.2" x2="192.83" y2="461.2" stroke="#999" stroke-width="1"/>
<circle cx="172.3" cy="357.8" r="1.45" fill="#1a1a1a"/>
<circle cx="175.3" cy="357.8" r="1.45" fill="#1a1a1a"/>
<circle cx="178.3" cy="357.8" r="1.45" fill="#1a1a1a"/>
<circle cx="182.9" cy="426.8" r="1.45" fill="#1a1a1a"/>
<text transform="translate(184.35,498) rotate(-42)" font-size="8.3" text-anchor="end" fill="#2e2e2e" stroke="#2e2e2e" stroke-width="0.2">800-bPPLs</text>
<rect x="210.59" y="375.21" width="8.33" height="114.59" fill="url(#p34)" stroke="#8a8a8a" stroke-width="0.6"/>
<line x1="214.76" y1="370.6" x2="214.76" y2="375.21" stroke="#999" stroke-width="0.8"/>
<line x1="213.16" y1="370.6" x2="216.36" y2="370.6" stroke="#999" stroke-width="1"/>
<rect x="218.92" y="446.28" width="8.33" height="43.52" fill="url(#p35)" stroke="#bbb" stroke-width="0.6"/>
<line x1="223.09" y1="438" x2="223.09" y2="446.28" stroke="#999" stroke-width="0.8"/>
<line x1="221.49" y1="438" x2="224.69" y2="438" stroke="#999" stroke-width="1"/>
<rect x="227.25" y="470.4" width="8.33" height="19.4" fill="url(#p36)" stroke="#bbb" stroke-width="0.6"/>
<line x1="231.42" y1="463.6" x2="231.42" y2="470.4" stroke="#999" stroke-width="0.8"/>
<line x1="229.82" y1="463.6" x2="233.02" y2="463.6" stroke="#999" stroke-width="1"/>
<circle cx="211.85" cy="364.9" r="1.45" fill="#1a1a1a"/>
<circle cx="214.85" cy="364.9" r="1.45" fill="#1a1a1a"/>
<circle cx="217.85" cy="364.9" r="1.45" fill="#1a1a1a"/>
<circle cx="222.6" cy="432.4" r="1.45" fill="#1a1a1a"/>
<circle cx="225.6" cy="432.4" r="1.45" fill="#1a1a1a"/>
<circle cx="228.6" cy="432.4" r="1.45" fill="#1a1a1a"/>
<circle cx="230.1" cy="458.8" r="1.45" fill="#1a1a1a"/>
<circle cx="233.1" cy="458.8" r="1.45" fill="#1a1a1a"/>
<text transform="translate(224.54,498) rotate(-42)" font-size="8.3" text-anchor="end" fill="#2e2e2e" stroke="#2e2e2e" stroke-width="0.2">2000-bPPLs</text>
<rect x="250.78" y="387.44" width="8.33" height="102.36" fill="url(#p37)" stroke="#8a8a8a" stroke-width="0.6"/>
<line x1="254.94" y1="379.7" x2="254.94" y2="387.44" stroke="#999" stroke-width="0.8"/>
<line x1="253.34" y1="379.7" x2="256.54" y2="379.7" stroke="#999" stroke-width="1"/>
<rect x="259.11" y="453.12" width="8.33" height="36.68" fill="url(#p38)" stroke="#bbb" stroke-width="0.6"/>
<line x1="263.27" y1="450.8" x2="263.27" y2="453.12" stroke="#999" stroke-width="0.8"/>
<line x1="261.67" y1="450.8" x2="264.87" y2="450.8" stroke="#999" stroke-width="1"/>
<rect x="267.44" y="473.17" width="8.33" height="16.63" fill="url(#p39)" stroke="#bbb" stroke-width="0.6"/>
<line x1="271.6" y1="469.2" x2="271.6" y2="473.17" stroke="#999" stroke-width="0.8"/>
<line x1="270" y1="469.2" x2="273.2" y2="469.2" stroke="#999" stroke-width="1"/>
<circle cx="251.45" cy="373" r="1.45" fill="#1a1a1a"/>
<circle cx="254.45" cy="373" r="1.45" fill="#1a1a1a"/>
<circle cx="257.45" cy="373" r="1.45" fill="#1a1a1a"/>
<circle cx="263" cy="444.1" r="1.45" fill="#1a1a1a"/>
<circle cx="266" cy="444.1" r="1.45" fill="#1a1a1a"/>
<circle cx="269" cy="444.1" r="1.45" fill="#1a1a1a"/>
<circle cx="271.8" cy="461.5" r="1.45" fill="#1a1a1a"/>
<circle cx="274.8" cy="461.5" r="1.45" fill="#1a1a1a"/>
<circle cx="277.8" cy="461.5" r="1.45" fill="#1a1a1a"/>
<text transform="translate(264.72,498) rotate(-42)" font-size="8.3" text-anchor="end" fill="#2e2e2e" stroke="#2e2e2e" stroke-width="0.2">25k-bPPLs</text>
<rect x="290.96" y="373.25" width="8.33" height="116.55" fill="url(#p40)" stroke="#8a8a8a" stroke-width="0.6"/>
<line x1="295.13" y1="369.6" x2="295.13" y2="373.25" stroke="#999" stroke-width="0.8"/>
<line x1="293.53" y1="369.6" x2="296.73" y2="369.6" stroke="#999" stroke-width="1"/>
<rect x="299.29" y="442.69" width="8.33" height="47.11" fill="url(#p41)" stroke="#bbb" stroke-width="0.6"/>
<line x1="303.46" y1="437.2" x2="303.46" y2="442.69" stroke="#999" stroke-width="0.8"/>
<line x1="301.86" y1="437.2" x2="305.06" y2="437.2" stroke="#999" stroke-width="1"/>
<rect x="307.62" y="469.1" width="8.33" height="20.7" fill="url(#p42)" stroke="#bbb" stroke-width="0.6"/>
<line x1="311.79" y1="464.4" x2="311.79" y2="469.1" stroke="#999" stroke-width="0.8"/>
<line x1="310.19" y1="464.4" x2="313.39" y2="464.4" stroke="#999" stroke-width="1"/>
<circle cx="292.6" cy="364.2" r="1.45" fill="#1a1a1a"/>
<circle cx="295.6" cy="364.2" r="1.45" fill="#1a1a1a"/>
<circle cx="298.6" cy="364.2" r="1.45" fill="#1a1a1a"/>
<circle cx="302.5" cy="431.6" r="1.45" fill="#1a1a1a"/>
<circle cx="305.5" cy="431.6" r="1.45" fill="#1a1a1a"/>
<circle cx="311.3" cy="461.2" r="1.45" fill="#1a1a1a"/>
<circle cx="314.3" cy="461.2" r="1.45" fill="#1a1a1a"/>
<text transform="translate(304.91,498) rotate(-42)" font-size="8.3" text-anchor="end" fill="#2e2e2e" stroke="#2e2e2e" stroke-width="0.2">25k-lPPLs</text>
<rect x="41.9" y="311" width="281.3" height="178.8" fill="none" stroke="#505050" stroke-width="1.2"/>
<line x1="40.3" y1="489.8" x2="41.9" y2="489.8" stroke="#505050" stroke-width="1"/>
<text x="32.7" y="492.7" font-size="8.0" text-anchor="end" font-weight="normal" fill="#2e2e2e" stroke="#2e2e2e" stroke-width="0.2">0</text>
<line x1="40.3" y1="473.5" x2="41.9" y2="473.5" stroke="#505050" stroke-width="1"/>
<line x1="40.3" y1="457.2" x2="41.9" y2="457.2" stroke="#505050" stroke-width="1"/>
<text x="32.7" y="460.1" font-size="8.0" text-anchor="end" font-weight="normal" fill="#2e2e2e" stroke="#2e2e2e" stroke-width="0.2">20</text>
<line x1="40.3" y1="440.9" x2="41.9" y2="440.9" stroke="#505050" stroke-width="1"/>
<line x1="40.3" y1="424.6" x2="41.9" y2="424.6" stroke="#505050" stroke-width="1"/>
<text x="32.7" y="427.5" font-size="8.0" text-anchor="end" font-weight="normal" fill="#2e2e2e" stroke="#2e2e2e" stroke-width="0.2">40</text>
<line x1="40.3" y1="408.3" x2="41.9" y2="408.3" stroke="#505050" stroke-width="1"/>
<line x1="40.3" y1="392" x2="41.9" y2="392" stroke="#505050" stroke-width="1"/>
<text x="32.7" y="394.9" font-size="8.0" text-anchor="end" font-weight="normal" fill="#2e2e2e" stroke="#2e2e2e" stroke-width="0.2">60</text>
<line x1="40.3" y1="375.7" x2="41.9" y2="375.7" stroke="#505050" stroke-width="1"/>
<line x1="40.3" y1="359.4" x2="41.9" y2="359.4" stroke="#505050" stroke-width="1"/>
<text x="32.7" y="362.3" font-size="8.0" text-anchor="end" font-weight="normal" fill="#2e2e2e" stroke="#2e2e2e" stroke-width="0.2">80</text>
<line x1="40.3" y1="343.1" x2="41.9" y2="343.1" stroke="#505050" stroke-width="1"/>
<line x1="40.3" y1="326.8" x2="41.9" y2="326.8" stroke="#505050" stroke-width="1"/>
<text x="32.7" y="329.7" font-size="8.0" text-anchor="end" font-weight="normal" fill="#2e2e2e" stroke="#2e2e2e" stroke-width="0.2">100</text>
<line x1="40.3" y1="310.5" x2="41.9" y2="310.5" stroke="#505050" stroke-width="1"/>
<text transform="translate(17,401) rotate(-90)" font-size="8.8" font-weight="bold" text-anchor="middle" fill="#1e1e1e" stroke="#1e1e1e" stroke-width="0.25">Viability [%]</text>
<line x1="82.09" y1="489.8" x2="82.09" y2="492" stroke="#505050" stroke-width="1"/>
<line x1="122.27" y1="489.8" x2="122.27" y2="492" stroke="#505050" stroke-width="1"/>
<line x1="162.46" y1="489.8" x2="162.46" y2="492" stroke="#505050" stroke-width="1"/>
<line x1="202.64" y1="489.8" x2="202.64" y2="492" stroke="#505050" stroke-width="1"/>
<line x1="242.83" y1="489.8" x2="242.83" y2="492" stroke="#505050" stroke-width="1"/>
<line x1="283.01" y1="489.8" x2="283.01" y2="492" stroke="#505050" stroke-width="1"/>
<rect x="296.5" y="316.1" width="3.8" height="3.8" fill="#f2f2f2" stroke="#aaa" stroke-width="0.9"/>
<line x1="296.7" y1="318" x2="300.1" y2="318" stroke="#bbb" stroke-width="0.8"/>
<text x="304.4" y="320.3" font-size="8.0" text-anchor="start" font-weight="normal" fill="#2e2e2e" stroke="#2e2e2e" stroke-width="0.2">24 h</text>
<rect x="296.1" y="327.3" width="1.8" height="1.8" fill="#222"/>
<rect x="298.9" y="327.3" width="1.8" height="1.8" fill="#222"/>
<rect x="296.1" y="330.1" width="1.8" height="1.8" fill="#222"/>
<rect x="298.9" y="330.1" width="1.8" height="1.8" fill="#222"/>
<text x="304.4" y="331.9" font-size="8.0" text-anchor="start" font-weight="normal" fill="#2e2e2e" stroke="#2e2e2e" stroke-width="0.2">48 h</text>
<path d="M296.2,340.5 L298.7,343.5 M298.1,338.9 L300.7,342" stroke="#222" stroke-width="1.1"/>
<text x="304.4" y="343.5" font-size="8.0" text-anchor="start" font-weight="normal" fill="#2e2e2e" stroke="#2e2e2e" stroke-width="0.2">72 h</text>
<text x="355.8" y="281" font-size="16.8" fill="#111" stroke="#111" stroke-width="0.5">D</text>
<rect x="396.55" y="327.6" width="8.33" height="162.7" fill="url(#p43)" stroke="#8a8a8a" stroke-width="0.6"/>
<line x1="400.71" y1="324.5" x2="400.71" y2="327.6" stroke="#999" stroke-width="0.8"/>
<line x1="399.11" y1="324.5" x2="402.31" y2="324.5" stroke="#999" stroke-width="1"/>
<rect x="404.88" y="327.6" width="8.33" height="162.7" fill="url(#p44)" stroke="#bbb" stroke-width="0.6"/>
<line x1="409.04" y1="324.5" x2="409.04" y2="327.6" stroke="#999" stroke-width="0.8"/>
<line x1="407.44" y1="324.5" x2="410.64" y2="324.5" stroke="#999" stroke-width="1"/>
<rect x="413.21" y="327.6" width="8.33" height="162.7" fill="url(#p45)" stroke="#bbb" stroke-width="0.6"/>
<line x1="417.37" y1="324.2" x2="417.37" y2="327.6" stroke="#999" stroke-width="0.8"/>
<line x1="415.77" y1="324.2" x2="418.97" y2="324.2" stroke="#999" stroke-width="1"/>
<text transform="translate(410.49,498.2) rotate(-42)" font-size="8.3" text-anchor="end" fill="#2e2e2e" stroke="#2e2e2e" stroke-width="0.2">control</text>
<rect x="436.73" y="349.04" width="8.33" height="141.26" fill="url(#p46)" stroke="#8a8a8a" stroke-width="0.6"/>
<line x1="440.9" y1="344.9" x2="440.9" y2="349.04" stroke="#999" stroke-width="0.8"/>
<line x1="439.3" y1="344.9" x2="442.5" y2="344.9" stroke="#999" stroke-width="1"/>
<rect x="445.06" y="384.93" width="8.33" height="105.37" fill="url(#p47)" stroke="#bbb" stroke-width="0.6"/>
<line x1="449.23" y1="377.6" x2="449.23" y2="384.93" stroke="#999" stroke-width="0.8"/>
<line x1="447.63" y1="377.6" x2="450.83" y2="377.6" stroke="#999" stroke-width="1"/>
<rect x="453.39" y="411.24" width="8.33" height="79.06" fill="url(#p48)" stroke="#bbb" stroke-width="0.6"/>
<line x1="457.56" y1="405.3" x2="457.56" y2="411.24" stroke="#999" stroke-width="0.8"/>
<line x1="455.96" y1="405.3" x2="459.16" y2="405.3" stroke="#999" stroke-width="1"/>
<text transform="translate(450.68,498.2) rotate(-42)" font-size="8.3" text-anchor="end" fill="#2e2e2e" stroke="#2e2e2e" stroke-width="0.2">paclitaxel</text>
<rect x="476.92" y="356.83" width="8.33" height="133.47" fill="url(#p49)" stroke="#8a8a8a" stroke-width="0.6"/>
<line x1="481.08" y1="351.1" x2="481.08" y2="356.83" stroke="#999" stroke-width="0.8"/>
<line x1="479.48" y1="351.1" x2="482.68" y2="351.1" stroke="#999" stroke-width="1"/>
<rect x="485.25" y="395" width="8.33" height="95.3" fill="url(#p50)" stroke="#bbb" stroke-width="0.6"/>
<line x1="489.41" y1="392.1" x2="489.41" y2="395" stroke="#999" stroke-width="0.8"/>
<line x1="487.81" y1="392.1" x2="491.01" y2="392.1" stroke="#999" stroke-width="1"/>
<rect x="493.58" y="415.95" width="8.33" height="74.35" fill="url(#p51)" stroke="#bbb" stroke-width="0.6"/>
<line x1="497.74" y1="411.9" x2="497.74" y2="415.95" stroke="#999" stroke-width="0.8"/>
<line x1="496.14" y1="411.9" x2="499.34" y2="411.9" stroke="#999" stroke-width="1"/>
<circle cx="481.4" cy="345.6" r="1.45" fill="#1a1a1a"/>
<circle cx="487.4" cy="387.8" r="1.45" fill="#1a1a1a"/>
<circle cx="490.4" cy="387.8" r="1.45" fill="#1a1a1a"/>
<circle cx="493.4" cy="387.8" r="1.45" fill="#1a1a1a"/>
<circle cx="497.9" cy="406.2" r="1.45" fill="#1a1a1a"/>
<text transform="translate(490.86,498.2) rotate(-42)" font-size="8.3" text-anchor="end" fill="#2e2e2e" stroke="#2e2e2e" stroke-width="0.2">PLs</text>
<rect x="517.11" y="366.9" width="8.33" height="123.4" fill="url(#p52)" stroke="#8a8a8a" stroke-width="0.6"/>
<line x1="521.27" y1="358.1" x2="521.27" y2="366.9" stroke="#999" stroke-width="0.8"/>
<line x1="519.67" y1="358.1" x2="522.87" y2="358.1" stroke="#999" stroke-width="1"/>
<rect x="525.44" y="403.93" width="8.33" height="86.37" fill="url(#p53)" stroke="#bbb" stroke-width="0.6"/>
<line x1="529.6" y1="395.5" x2="529.6" y2="403.93" stroke="#999" stroke-width="0.8"/>
<line x1="528" y1="395.5" x2="531.2" y2="395.5" stroke="#999" stroke-width="1"/>
<rect x="533.76" y="421.79" width="8.33" height="68.51" fill="url(#p54)" stroke="#bbb" stroke-width="0.6"/>
<line x1="537.93" y1="414.1" x2="537.93" y2="421.79" stroke="#999" stroke-width="0.8"/>
<line x1="536.33" y1="414.1" x2="539.53" y2="414.1" stroke="#999" stroke-width="1"/>
<circle cx="517.75" cy="352.7" r="1.45" fill="#1a1a1a"/>
<circle cx="520.75" cy="352.7" r="1.45" fill="#1a1a1a"/>
<circle cx="523.75" cy="352.7" r="1.45" fill="#1a1a1a"/>
<circle cx="527.1" cy="390.9" r="1.45" fill="#1a1a1a"/>
<circle cx="530.1" cy="390.9" r="1.45" fill="#1a1a1a"/>
<circle cx="533.1" cy="390.9" r="1.45" fill="#1a1a1a"/>
<circle cx="536.5" cy="409.1" r="1.45" fill="#1a1a1a"/>
<circle cx="539.5" cy="409.1" r="1.45" fill="#1a1a1a"/>
<text transform="translate(531.05,498.2) rotate(-42)" font-size="8.3" text-anchor="end" fill="#2e2e2e" stroke="#2e2e2e" stroke-width="0.2">800-bPPLs</text>
<rect x="557.29" y="372.42" width="8.33" height="117.88" fill="url(#p55)" stroke="#8a8a8a" stroke-width="0.6"/>
<line x1="561.46" y1="363.6" x2="561.46" y2="372.42" stroke="#999" stroke-width="0.8"/>
<line x1="559.86" y1="363.6" x2="563.06" y2="363.6" stroke="#999" stroke-width="1"/>
<rect x="565.62" y="414.48" width="8.33" height="75.82" fill="url(#p56)" stroke="#bbb" stroke-width="0.6"/>
<line x1="569.79" y1="409.5" x2="569.79" y2="414.48" stroke="#999" stroke-width="0.8"/>
<line x1="568.19" y1="409.5" x2="571.39" y2="409.5" stroke="#999" stroke-width="1"/>
<rect x="573.95" y="430.24" width="8.33" height="60.06" fill="url(#p57)" stroke="#bbb" stroke-width="0.6"/>
<line x1="578.12" y1="426.2" x2="578.12" y2="430.24" stroke="#999" stroke-width="0.8"/>
<line x1="576.52" y1="426.2" x2="579.72" y2="426.2" stroke="#999" stroke-width="1"/>
<circle cx="557.6" cy="358.7" r="1.45" fill="#1a1a1a"/>
<circle cx="560.6" cy="358.7" r="1.45" fill="#1a1a1a"/>
<circle cx="563.6" cy="358.7" r="1.45" fill="#1a1a1a"/>
<circle cx="569.1" cy="404.2" r="1.45" fill="#1a1a1a"/>
<circle cx="572.1" cy="404.2" r="1.45" fill="#1a1a1a"/>
<circle cx="575.1" cy="404.2" r="1.45" fill="#1a1a1a"/>
<circle cx="576.5" cy="420" r="1.45" fill="#1a1a1a"/>
<circle cx="579.5" cy="420" r="1.45" fill="#1a1a1a"/>
<circle cx="582.5" cy="420" r="1.45" fill="#1a1a1a"/>
<text transform="translate(571.24,498.2) rotate(-42)" font-size="8.3" text-anchor="end" fill="#2e2e2e" stroke="#2e2e2e" stroke-width="0.2">2000-bPPLs</text>
<rect x="597.48" y="386.55" width="8.33" height="103.75" fill="url(#p58)" stroke="#8a8a8a" stroke-width="0.6"/>
<line x1="601.64" y1="382.2" x2="601.64" y2="386.55" stroke="#999" stroke-width="0.8"/>
<line x1="600.04" y1="382.2" x2="603.24" y2="382.2" stroke="#999" stroke-width="1"/>
<rect x="605.81" y="421.14" width="8.33" height="69.16" fill="url(#p59)" stroke="#bbb" stroke-width="0.6"/>
<line x1="609.97" y1="411.9" x2="609.97" y2="421.14" stroke="#999" stroke-width="0.8"/>
<line x1="608.37" y1="411.9" x2="611.57" y2="411.9" stroke="#999" stroke-width="1"/>
<rect x="614.14" y="437.71" width="8.33" height="52.59" fill="url(#p60)" stroke="#bbb" stroke-width="0.6"/>
<line x1="618.3" y1="431" x2="618.3" y2="437.71" stroke="#999" stroke-width="0.8"/>
<line x1="616.7" y1="431" x2="619.9" y2="431" stroke="#999" stroke-width="1"/>
<circle cx="598.1" cy="375.3" r="1.45" fill="#1a1a1a"/>
<circle cx="601.1" cy="375.3" r="1.45" fill="#1a1a1a"/>
<circle cx="604.1" cy="375.3" r="1.45" fill="#1a1a1a"/>
<circle cx="609.6" cy="405.9" r="1.45" fill="#1a1a1a"/>
<circle cx="612.6" cy="405.9" r="1.45" fill="#1a1a1a"/>
<circle cx="615.6" cy="405.9" r="1.45" fill="#1a1a1a"/>
<circle cx="617.3" cy="425.3" r="1.45" fill="#1a1a1a"/>
<circle cx="620.3" cy="425.3" r="1.45" fill="#1a1a1a"/>
<circle cx="623.3" cy="425.3" r="1.45" fill="#1a1a1a"/>
<text transform="translate(611.42,498.2) rotate(-42)" font-size="8.3" text-anchor="end" fill="#2e2e2e" stroke="#2e2e2e" stroke-width="0.2">25k-bPPLs</text>
<rect x="637.66" y="368.36" width="8.33" height="121.94" fill="url(#p61)" stroke="#8a8a8a" stroke-width="0.6"/>
<line x1="641.83" y1="363.5" x2="641.83" y2="368.36" stroke="#999" stroke-width="0.8"/>
<line x1="640.23" y1="363.5" x2="643.43" y2="363.5" stroke="#999" stroke-width="1"/>
<rect x="645.99" y="409.61" width="8.33" height="80.69" fill="url(#p62)" stroke="#bbb" stroke-width="0.6"/>
<line x1="650.16" y1="402.4" x2="650.16" y2="409.61" stroke="#999" stroke-width="0.8"/>
<line x1="648.56" y1="402.4" x2="651.76" y2="402.4" stroke="#999" stroke-width="1"/>
<rect x="654.32" y="424.55" width="8.33" height="65.75" fill="url(#p63)" stroke="#bbb" stroke-width="0.6"/>
<line x1="658.49" y1="417.8" x2="658.49" y2="424.55" stroke="#999" stroke-width="0.8"/>
<line x1="656.89" y1="417.8" x2="660.09" y2="417.8" stroke="#999" stroke-width="1"/>
<circle cx="636.75" cy="357.8" r="1.45" fill="#1a1a1a"/>
<circle cx="639.75" cy="357.8" r="1.45" fill="#1a1a1a"/>
<circle cx="642.75" cy="357.8" r="1.45" fill="#1a1a1a"/>
<circle cx="648.95" cy="398.7" r="1.45" fill="#1a1a1a"/>
<circle cx="651.95" cy="398.7" r="1.45" fill="#1a1a1a"/>
<circle cx="654.95" cy="398.7" r="1.45" fill="#1a1a1a"/>
<circle cx="657.4" cy="411.9" r="1.45" fill="#1a1a1a"/>
<circle cx="660.4" cy="411.9" r="1.45" fill="#1a1a1a"/>
<circle cx="663.4" cy="411.9" r="1.45" fill="#1a1a1a"/>
<text transform="translate(651.61,498.2) rotate(-42)" font-size="8.3" text-anchor="end" fill="#2e2e2e" stroke="#2e2e2e" stroke-width="0.2">25k-lPPLs</text>
<rect x="388.6" y="311.4" width="281.3" height="178.9" fill="none" stroke="#505050" stroke-width="1.2"/>
<line x1="387" y1="490" x2="388.6" y2="490" stroke="#505050" stroke-width="1"/>
<text x="379.4" y="492.9" font-size="8.0" text-anchor="end" font-weight="normal" fill="#2e2e2e" stroke="#2e2e2e" stroke-width="0.2">0</text>
<line x1="387" y1="473.76" x2="388.6" y2="473.76" stroke="#505050" stroke-width="1"/>
<line x1="387" y1="457.52" x2="388.6" y2="457.52" stroke="#505050" stroke-width="1"/>
<text x="379.4" y="460.42" font-size="8.0" text-anchor="end" font-weight="normal" fill="#2e2e2e" stroke="#2e2e2e" stroke-width="0.2">20</text>
<line x1="387" y1="441.28" x2="388.6" y2="441.28" stroke="#505050" stroke-width="1"/>
<line x1="387" y1="425.04" x2="388.6" y2="425.04" stroke="#505050" stroke-width="1"/>
<text x="379.4" y="427.94" font-size="8.0" text-anchor="end" font-weight="normal" fill="#2e2e2e" stroke="#2e2e2e" stroke-width="0.2">40</text>
<line x1="387" y1="408.8" x2="388.6" y2="408.8" stroke="#505050" stroke-width="1"/>
<line x1="387" y1="392.56" x2="388.6" y2="392.56" stroke="#505050" stroke-width="1"/>
<text x="379.4" y="395.46" font-size="8.0" text-anchor="end" font-weight="normal" fill="#2e2e2e" stroke="#2e2e2e" stroke-width="0.2">60</text>
<line x1="387" y1="376.32" x2="388.6" y2="376.32" stroke="#505050" stroke-width="1"/>
<line x1="387" y1="360.08" x2="388.6" y2="360.08" stroke="#505050" stroke-width="1"/>
<text x="379.4" y="362.98" font-size="8.0" text-anchor="end" font-weight="normal" fill="#2e2e2e" stroke="#2e2e2e" stroke-width="0.2">80</text>
<line x1="387" y1="343.84" x2="388.6" y2="343.84" stroke="#505050" stroke-width="1"/>
<line x1="387" y1="327.6" x2="388.6" y2="327.6" stroke="#505050" stroke-width="1"/>
<text x="379.4" y="330.5" font-size="8.0" text-anchor="end" font-weight="normal" fill="#2e2e2e" stroke="#2e2e2e" stroke-width="0.2">100</text>
<line x1="387" y1="311.36" x2="388.6" y2="311.36" stroke="#505050" stroke-width="1"/>
<text transform="translate(364.4,403.1) rotate(-90)" font-size="8.8" font-weight="bold" text-anchor="middle" fill="#1e1e1e" stroke="#1e1e1e" stroke-width="0.25">Viability [%]</text>
<line x1="428.79" y1="490.3" x2="428.79" y2="492.5" stroke="#505050" stroke-width="1"/>
<line x1="468.97" y1="490.3" x2="468.97" y2="492.5" stroke="#505050" stroke-width="1"/>
<line x1="509.16" y1="490.3" x2="509.16" y2="492.5" stroke="#505050" stroke-width="1"/>
<line x1="549.34" y1="490.3" x2="549.34" y2="492.5" stroke="#505050" stroke-width="1"/>
<line x1="589.53" y1="490.3" x2="589.53" y2="492.5" stroke="#505050" stroke-width="1"/>
<line x1="629.71" y1="490.3" x2="629.71" y2="492.5" stroke="#505050" stroke-width="1"/>
<rect x="642.6" y="316.4" width="3.8" height="3.8" fill="#f2f2f2" stroke="#aaa" stroke-width="0.9"/>
<line x1="642.8" y1="318.3" x2="646.2" y2="318.3" stroke="#bbb" stroke-width="0.8"/>
<text x="650.5" y="320.6" font-size="8.0" text-anchor="start" font-weight="normal" fill="#2e2e2e" stroke="#2e2e2e" stroke-width="0.2">24 h</text>
<rect x="642.2" y="327.4" width="1.8" height="1.8" fill="#222"/>
<rect x="645" y="327.4" width="1.8" height="1.8" fill="#222"/>
<rect x="642.2" y="330.2" width="1.8" height="1.8" fill="#222"/>
<rect x="645" y="330.2" width="1.8" height="1.8" fill="#222"/>
<text x="650.5" y="332" font-size="8.0" text-anchor="start" font-weight="normal" fill="#2e2e2e" stroke="#2e2e2e" stroke-width="0.2">48 h</text>
<path d="M642.3,340.4 L644.8,343.4 M644.2,338.8 L646.8,341.9" stroke="#222" stroke-width="1.1"/>
<text x="650.5" y="343.4" font-size="8.0" text-anchor="start" font-weight="normal" fill="#2e2e2e" stroke="#2e2e2e" stroke-width="0.2">72 h</text></svg></body></html>
